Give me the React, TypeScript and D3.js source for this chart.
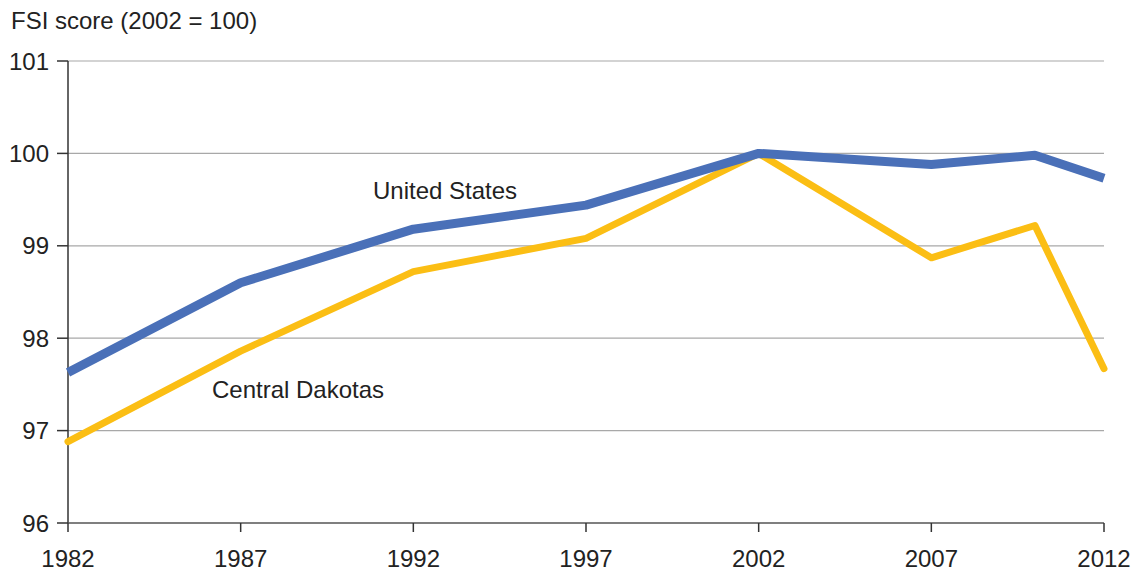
import React from "react";
import * as d3 from "d3";

const years = [1982, 1987, 1992, 1997, 2002, 2007, 2010, 2012];
const usValues = [97.63, 98.6, 99.18, 99.44, 100, 99.88, 99.98, 99.73];
const cdValues = [96.88, 97.86, 98.72, 99.08, 100, 98.87, 99.22, 97.67];
const xTicks = [1982, 1987, 1992, 1997, 2002, 2007, 2012];
const yTicks = [96, 97, 98, 99, 100, 101];

export default function App() {
  const W = 1134, H = 573;
  const x = d3.scaleLinear().domain([1982, 2012]).range([68, 1104]);
  const y = d3.scaleLinear().domain([96, 101]).range([523, 61]);
  const line = d3.line<number>().x((_, i) => x(years[i])).y((d) => y(d));
  const font = "Liberation Sans, Arial, Helvetica, sans-serif";
  return (
    <svg width={W} height={H} style={{ position: "absolute", left: 0, top: 0 }} fontFamily={font}>
      <rect width={W} height={H} fill="#fff" />
      <text x={11} y={29} fontSize={24} fill="#222">FSI score (2002 = 100)</text>
      {yTicks.map((t) => (
        <g key={t}>
          {t > 96 && <line x1={68} x2={1104} y1={y(t)} y2={y(t)} stroke="#a8a8a8" strokeWidth={1.2} />}
          <line x1={57} x2={68} y1={y(t)} y2={y(t)} stroke="#333" strokeWidth={1.5} />
          <text x={49} y={y(t) + 8.5} fontSize={24} textAnchor="end" fill="#222">{t}</text>
        </g>
      ))}
      <line x1={68} x2={68} y1={y(101)} y2={y(96)} stroke="#333" strokeWidth={1.5} />
      <line x1={68} x2={1104} y1={y(96)} y2={y(96)} stroke="#555" strokeWidth={1.5} />
      {xTicks.map((t) => (
        <g key={t}>
          <line x1={x(t)} x2={x(t)} y1={523} y2={532} stroke="#333" strokeWidth={1.5} />
          <text x={x(t)} y={567} fontSize={24} textAnchor="middle" fill="#222">{t}</text>
        </g>
      ))}
      <path d={line(cdValues) || ""} fill="none" stroke="#fbbe14" strokeWidth={7} strokeLinejoin="round" strokeLinecap="round" />
      <path d={line(usValues) || ""} fill="none" stroke="#4a70b8" strokeWidth={9} strokeLinejoin="round" />
      <text x={373} y={199} fontSize={24} fill="#222">United States</text>
      <text x={212} y={398} fontSize={24} fill="#222">Central Dakotas</text>
    </svg>
  );
}
